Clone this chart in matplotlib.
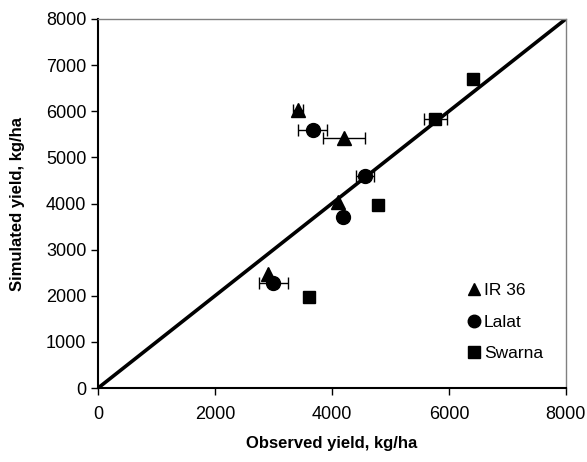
import numpy as np
import matplotlib.pyplot as plt

plt.rcParams['font.family'] = ['Liberation Sans', 'DejaVu Sans']

# IR 36
ir36_obs = [3420, 4210, 4100, 2910]
ir36_sim = [6030, 5420, 4030, 2480]
ir36_err = [90, 360, 0, 0]

# Lalat
lalat_obs = [3670, 4570, 4190, 3000]
lalat_sim = [5600, 4600, 3710, 2280]
lalat_err = [250, 155, 0, 255]

# Swarna
swarna_obs = [3600, 4780, 5770, 6410]
swarna_sim = [1975, 3970, 5830, 6700]
swarna_err = [0, 0, 190, 0]

one_to_one = [0, 8000]
ticks = [0, 1000, 2000, 3000, 4000, 5000, 6000, 7000, 8000]
xticks = [0, 2000, 4000, 6000, 8000]

fig = plt.figure(figsize=(5.87, 4.62), dpi=100)
ax = fig.add_axes([0.167, 0.160, 0.797, 0.799])

ax.plot(one_to_one, one_to_one, color='black', lw=2.6, zorder=2)

ebar = dict(fmt='none', ecolor='black', elinewidth=1.0, capsize=4, capthick=1.0, zorder=3)
ax.errorbar(ir36_obs, ir36_sim, xerr=ir36_err, **ebar)
ax.errorbar(lalat_obs, lalat_sim, xerr=lalat_err, **ebar)
ax.errorbar(swarna_obs, swarna_sim, xerr=swarna_err, **ebar)

ax.plot(ir36_obs, ir36_sim, '^', color='black', ms=10, ls='none', label='IR 36', zorder=4)
ax.plot(lalat_obs, lalat_sim, 'o', color='black', ms=10, ls='none', label='Lalat', zorder=4)
ax.plot(swarna_obs, swarna_sim, 's', color='black', ms=9, ls='none', label='Swarna', zorder=4)

ax.set_xlim(0, 8000)
ax.set_ylim(0, 8000)
ax.set_xticks(xticks)
ax.set_yticks(ticks)
ax.tick_params(direction='out', length=5, width=1, labelsize=13, colors='black')
ax.tick_params(axis='x', pad=8)

for side in ['left', 'bottom']:
    ax.spines[side].set_linewidth(1.5)
    ax.spines[side].set_color('black')
for side in ['top', 'right']:
    ax.spines[side].set_linewidth(1.0)
    ax.spines[side].set_color('#808080')

ax.set_xlabel('Observed yield, kg/ha', fontsize=12, fontweight='bold', labelpad=9)
ax.set_ylabel('Simulated yield, kg/ha', fontsize=12, fontweight='bold', labelpad=15)

ax.legend(loc='lower right', bbox_to_anchor=(0.985, 0.03), frameon=False, fontsize=12.5,
          handlelength=0.6, handletextpad=0.3, markerscale=0.9, labelspacing=0.95)

fig.savefig('out.png', dpi=100)
